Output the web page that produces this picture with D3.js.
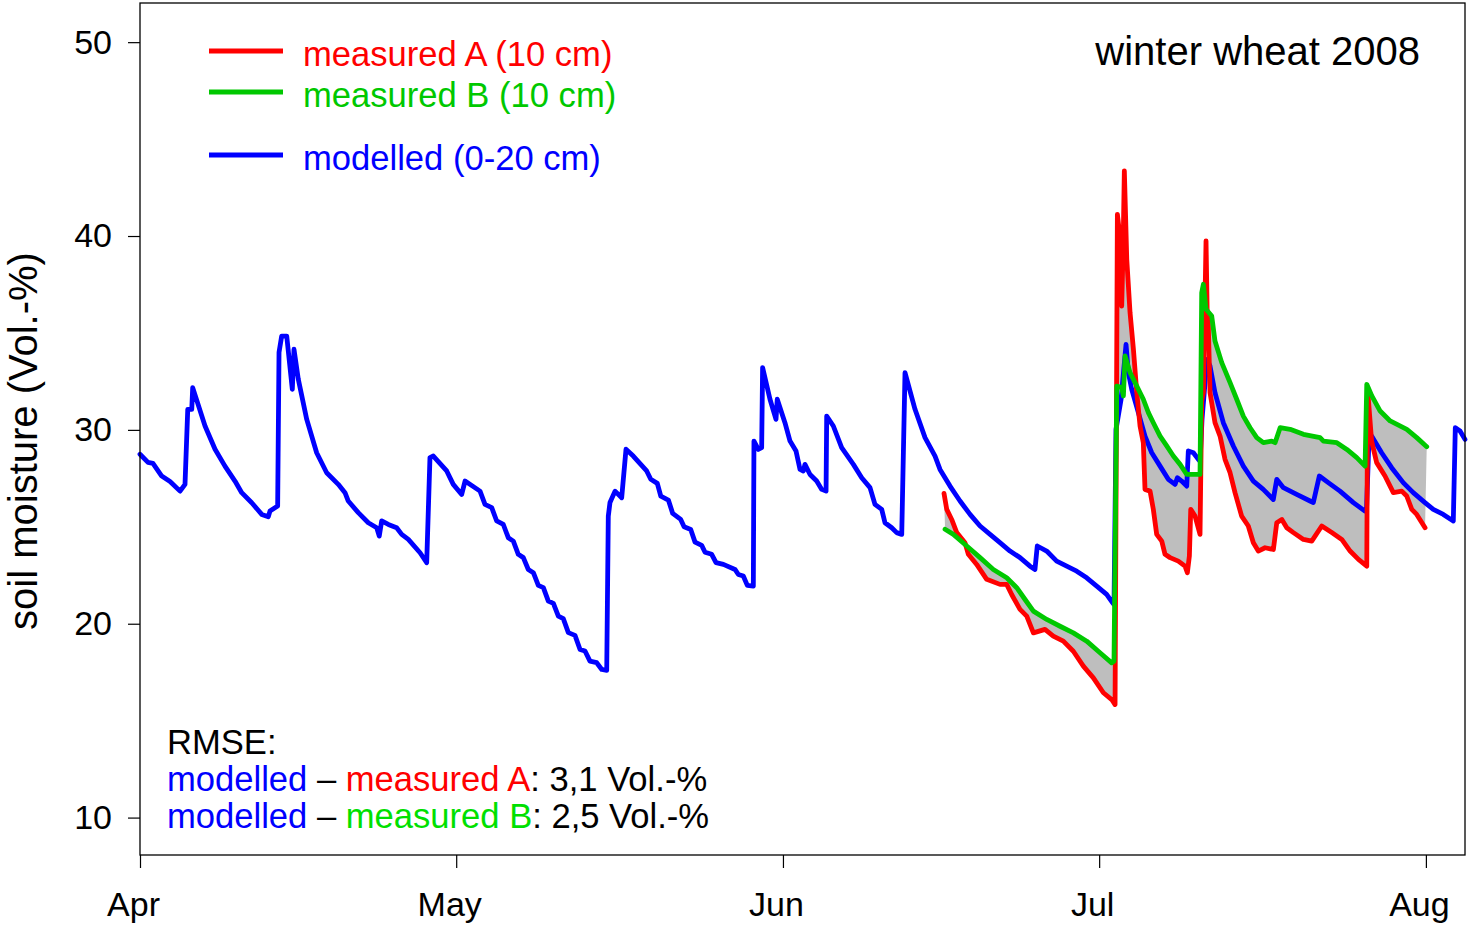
<!DOCTYPE html>
<html>
<head>
<meta charset="utf-8">
<script src="https://cdn.jsdelivr.net/npm/d3@7"></script>
<style>
  html, body { margin: 0; padding: 0; background: #fff; }
  svg { display: block; }
  text { font-family: "Liberation Sans", Arial, Helvetica, sans-serif; }
</style>
</head>
<body>
<svg id="chart" width="1470" height="932"></svg>
<script>
// ---- data: [days since 1 Apr 2008, soil moisture Vol.-%] ----
const modelled = [
  [0.00,28.74],[0.76,28.32],[1.23,28.27],[2.06,27.62],[2.85,27.34],[3.80,26.84],[4.27,27.19],
  [4.53,31.06],[4.91,31.06],[5.00,32.18],[6.17,30.20],[7.12,29.00],[8.06,28.13],[9.01,27.36],
  [9.65,26.76],[10.60,26.24],[11.55,25.64],[12.17,25.52],[12.33,25.81],[13.06,26.07],[13.19,34.00],
  [13.44,34.84],[13.92,34.84],[14.45,32.09],[14.61,34.16],[15.02,32.61],[15.82,30.54],[16.76,28.82],
  [17.71,27.79],[18.81,27.19],[19.45,26.76],[19.76,26.33],[20.71,25.73],[21.66,25.21],[22.46,24.95],
  [22.70,24.52],[22.93,25.30],[23.56,25.12],[24.35,24.95],[24.83,24.61],[25.46,24.35],[26.57,23.66],
  [27.20,23.15],[27.51,28.57],[27.83,28.65],[29.10,27.88],[29.72,27.19],[30.52,26.67],[30.84,27.36],
  [32.26,26.84],[32.73,26.16],[33.37,25.99],[33.84,25.30],[34.47,25.12],[34.94,24.44],[35.42,24.26],
  [35.89,23.58],[36.37,23.41],[36.84,22.80],[37.32,22.63],[37.79,21.98],[38.27,21.86],[38.74,21.17],
  [39.22,21.05],[39.69,20.39],[40.16,20.26],[40.64,19.54],[41.27,19.40],[41.75,18.67],[42.22,18.59],
  [42.69,18.07],[43.33,17.99],[43.81,17.64],[44.28,17.60],[44.43,25.55],[44.59,26.25],[45.07,26.84],
  [45.70,26.50],[46.11,29.00],[46.80,28.65],[48.07,27.88],[48.46,27.45],[49.08,27.24],[49.41,26.58],
  [50.13,26.38],[50.54,25.69],[51.30,25.38],[51.62,25.00],[52.25,24.86],[52.66,24.21],[53.29,24.04],
  [53.61,23.69],[54.24,23.58],[54.65,23.15],[55.35,23.06],[56.45,22.80],[56.77,22.54],[57.24,22.46],
  [57.62,21.98],[58.19,21.94],[58.25,29.42],
  [58.66,28.99],[58.98,29.08],[59.07,33.21],[59.77,31.58],[60.34,30.54],[60.46,31.58],[61.19,30.37],
  [61.67,29.42],[62.24,28.91],[62.62,27.96],[62.93,27.88],[63.09,28.22],[63.57,27.70],[64.20,27.36],
  [64.68,26.93],[65.09,26.84],[65.15,30.71],[65.78,30.20],[66.57,29.08],[67.68,28.22],[68.47,27.53],
  [69.26,27.02],[69.73,26.16],[70.37,25.90],[70.68,25.21],[71.32,24.95],[71.79,24.70],[72.27,24.61],
  [72.58,32.95],[73.53,31.06],[74.48,29.60],[75.43,28.65],[75.90,27.96],[76.85,27.10],[77.80,26.33],
  [78.75,25.64],[79.70,25.04],[80.65,24.61],[81.59,24.18],[82.54,23.75],[83.49,23.41],[84.44,22.97],
  [84.91,22.80],[85.13,24.01],[86.02,23.75],[86.97,23.23],[87.92,22.97],[88.87,22.71],[89.82,22.37],
  [90.77,21.94],[91.71,21.51],[92.28,21.08],[92.41,20.99],[92.60,30.03],[93.08,31.58],[93.55,34.41],
  [93.77,32.95],[94.09,32.09],[94.72,30.89],[95.35,29.68],[95.99,28.82],[96.78,28.13],[97.56,27.45],
  [98.20,27.19],[98.42,27.53],[98.83,27.36],[99.31,27.10],[99.46,28.91],[99.94,28.82],[100.41,28.48],
  [100.57,28.38],[100.76,30.54],[101.23,33.64],[101.52,33.29],[101.99,31.92],[102.78,30.37],[103.73,29.17],
  [104.68,28.13],[105.63,27.36],[106.57,26.93],[107.52,26.41],[107.85,27.45],[108.48,27.02],[109.74,26.67],
  [111.01,26.33],[111.32,26.25],[111.89,27.62],[112.74,27.28],[113.85,26.84],[115.12,26.25],[116.22,25.81],
  [116.36,25.80],[116.60,29.51],[116.85,29.68],[117.80,28.82],[118.75,28.05],[119.85,27.28],[120.80,26.76],
  [121.91,26.25],[122.70,25.90],[123.65,25.64],[124.60,25.30],[124.79,30.11],[125.24,29.94],[125.71,29.51]
];
const measuredA = [
  [76.28,26.72],[76.54,25.90],[77.01,25.38],[77.49,24.70],[78.27,24.18],[78.59,23.58],[79.38,23.06],
  [80.33,22.29],[81.59,22.03],[82.23,22.03],[82.70,21.51],[83.49,20.74],[84.13,20.39],[84.76,19.53],
  [85.86,19.71],[86.65,19.36],[87.60,19.10],[88.55,18.58],[89.50,17.81],[90.45,17.21],[91.40,16.44],
  [92.19,16.09],[92.51,15.83],[92.73,41.12],[92.89,40.35],[92.98,37.25],[93.14,36.39],[93.27,39.32],
  [93.39,43.36],[93.62,38.80],[93.93,36.05],[94.25,34.16],[94.57,31.92],[94.88,30.20],[95.19,29.34],
  [95.35,26.93],[95.83,26.84],[96.14,25.90],[96.46,24.61],[96.94,24.26],[97.25,23.58],[97.73,23.41],
  [98.51,23.23],[99.15,22.97],[99.37,22.63],[99.56,23.49],[99.69,25.90],[100.10,25.55],[100.57,24.61],
  [100.73,31.49],[100.89,31.94],[101.14,39.75],[101.26,35.71],[101.33,35.96],[101.52,31.92],[101.99,30.37],
  [102.47,29.68],[102.94,28.48],[103.42,27.79],[103.89,26.76],[104.52,25.55],[105.15,25.04],[105.63,24.18],
  [106.10,23.75],[106.74,23.92],[107.53,23.83],[107.85,25.21],[108.33,25.38],[108.80,24.95],[109.43,24.70],
  [110.38,24.35],[111.17,24.26],[112.12,25.04],[113.07,24.70],[114.02,24.35],[114.81,23.75],[115.60,23.32],
  [116.39,22.97],[116.47,32.09],[116.85,29.42],[117.33,28.31],[118.12,27.62],[118.91,26.76],[119.71,26.84],
  [120.18,26.59],[120.66,25.90],[121.13,25.64],[121.92,24.95]
];
const measuredB = [
  [76.38,24.87],[77.17,24.61],[78.44,24.01],[79.70,23.41],[80.96,22.80],[82.23,22.37],[83.18,21.86],
  [83.97,21.25],[84.76,20.65],[86.03,20.22],[87.29,19.87],[88.55,19.53],[89.82,19.10],[91.08,18.50],
  [92.19,17.98],[92.41,18.07],[92.67,32.26],[93.14,32.18],[93.30,31.75],[93.46,33.81],[93.93,32.95],
  [94.57,32.26],[95.19,31.58],[95.67,30.89],[96.14,30.37],[96.78,29.68],[97.41,29.17],[98.04,28.65],
  [98.68,28.22],[99.31,27.70],[99.94,27.70],[100.57,27.70],[100.73,37.08],[100.89,37.51],[101.14,36.22],
  [101.68,35.87],[101.99,34.58],[102.63,33.47],[103.42,32.44],[104.05,31.58],[104.68,30.71],[105.32,30.11],
  [105.95,29.60],[106.58,29.34],[107.38,29.42],[107.69,29.34],[108.17,30.11],[109.12,30.03],[110.38,29.77],
  [111.96,29.60],[112.28,29.42],[113.55,29.34],[114.50,28.99],[115.44,28.57],[116.23,28.13],[116.39,32.35],
  [116.87,31.75],[117.66,30.97],[118.61,30.46],[120.19,30.03],[121.13,29.60],[122.08,29.13]
];
const yTicks = [10, 20, 30, 40, 50];
const monthLabels = ["Apr", "May", "Jun", "Jul", "Aug"];
const legendLabels = ["measured A (10 cm)", "measured B (10 cm)", "modelled (0-20 cm)"];
const titleText = "winter wheat 2008";
const yLabel = "soil moisture (Vol.-%)";
const rmseA = "3,1 Vol.-%";
const rmseB = "2,5 Vol.-%";

// ---- layout ----
const DAY = 864e5;
const t0 = Date.UTC(2008, 3, 1);
const toDate = d => new Date(t0 + d * DAY);
const L = 140, R = 1465, T = 3, B = 855;
const RED = "#ff0000", GREEN = "#00c800", BLUE = "#0000ff", FILL = "#bebebe";
const FONT = "'Liberation Sans', Arial, Helvetica, sans-serif";
const LW = 4.8;

const svg = d3.select("#chart");
const x = d3.scaleUtc().domain([new Date(t0), toDate(125.71)]).range([L, R]);
const y = d3.scaleLinear().domain([8.07, 52.02]).range([B, T]);

// grey area between the two measured series
const poly = measuredA.concat(measuredB.slice().reverse());
svg.append("path")
  .attr("d", d3.line().x(d => x(toDate(d[0]))).y(d => y(d[1]))(poly) + "Z")
  .attr("fill", FILL).attr("stroke", "none");

const line = d3.line().x(d => x(toDate(d[0]))).y(d => y(d[1]));
function drawLine(data, color) {
  svg.append("path").attr("d", line(data)).attr("fill", "none")
    .attr("stroke", color).attr("stroke-width", LW)
    .attr("stroke-linejoin", "round").attr("stroke-linecap", "round");
}
drawLine(modelled, BLUE);
drawLine(measuredA, RED);
drawLine(measuredB, GREEN);

// frame
svg.append("rect").attr("x", L).attr("y", T).attr("width", R - L).attr("height", B - T)
  .attr("fill", "none").attr("stroke", "#000").attr("stroke-width", 1.3);

// y axis
const yAxis = svg.append("g").attr("transform", `translate(${L},0)`)
  .call(d3.axisLeft(y).tickValues(yTicks).tickSize(12).tickPadding(16).tickFormat(d3.format("d")));
yAxis.select(".domain").remove();
yAxis.selectAll("line").attr("stroke", "#000").attr("stroke-width", 1.2);
yAxis.selectAll("text").attr("font-size", 34).attr("font-family", FONT).attr("fill", "#000");

// x axis
const monthDates = monthLabels.map((m, i) => new Date(Date.UTC(2008, 3 + i, 1)));
const xAxis = svg.append("g").attr("transform", `translate(0,${B})`)
  .call(d3.axisBottom(x).tickValues(monthDates).tickSize(13)
    .tickFormat((d, i) => monthLabels[i]));
xAxis.select(".domain").remove();
xAxis.selectAll("line").attr("stroke", "#000").attr("stroke-width", 1.2);
xAxis.selectAll("text").attr("font-size", 34).attr("font-family", FONT).attr("fill", "#000")
  .attr("y", 61).attr("dy", 0).attr("dx", -7);

// y label
svg.append("text").attr("transform", "translate(37,441) rotate(-90)")
  .attr("text-anchor", "middle").attr("font-size", 40).attr("font-family", FONT)
  .attr("fill", "#000").text(yLabel);

// title
svg.append("text").attr("x", 1420).attr("y", 65).attr("text-anchor", "end")
  .attr("font-size", 40).attr("font-family", FONT).attr("fill", "#000").text(titleText);

// legend
const legendColors = [RED, GREEN, BLUE];
const legendLineY = [51, 92, 155];
const legendTextY = [66, 107, 170];
legendLabels.forEach((lab, i) => {
  svg.append("line").attr("x1", 209).attr("x2", 283)
    .attr("y1", legendLineY[i]).attr("y2", legendLineY[i])
    .attr("stroke", legendColors[i]).attr("stroke-width", LW);
  svg.append("text").attr("x", 303).attr("y", legendTextY[i])
    .attr("font-size", 34.6).attr("font-family", FONT).attr("fill", legendColors[i]).text(lab);
});

// RMSE annotation
const rm = svg.append("g").attr("font-size", 34.6).attr("font-family", FONT);
rm.append("text").attr("x", 167).attr("y", 754).attr("fill", "#000").text("RMSE:");
const rows = [
  {y: 791, name: "measured A", col: RED, val: rmseA},
  {y: 828, name: "measured B", col: "#00e000", val: rmseB}
];
rows.forEach(r => {
  const t = rm.append("text").attr("x", 167).attr("y", r.y);
  t.append("tspan").attr("fill", BLUE).text("modelled");
  t.append("tspan").attr("fill", "#000").text(" \u2013 ");
  t.append("tspan").attr("fill", r.col).text(r.name);
  t.append("tspan").attr("fill", "#000").text(": " + r.val);
});
</script>
</body>
</html>
